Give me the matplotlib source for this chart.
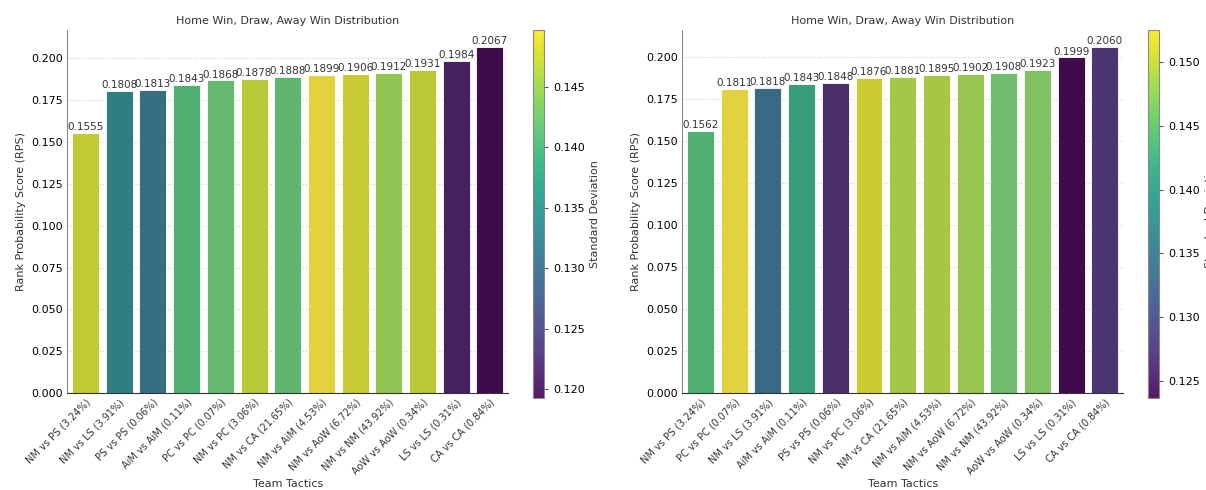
import numpy as np
import matplotlib
matplotlib.use("Agg")
import matplotlib.pyplot as plt
import matplotlib.colors as mcolors
import seaborn as sns

# Left panel
left_tactics = ['NM vs PS (3.24%)', 'NM vs LS (3.91%)', 'PS vs PS (0.06%)', 'AiM vs AiM (0.11%)',
                'PC vs PC (0.07%)', 'NM vs PC (3.06%)', 'NM vs CA (21.65%)', 'NM vs AiM (4.53%)',
                'NM vs AoW (6.72%)', 'NM vs NM (43.92%)', 'AoW vs AoW (0.34%)', 'LS vs LS (0.31%)',
                'CA vs CA (0.84%)']
left_rps = [0.1555, 0.1808, 0.1813, 0.1843, 0.1868, 0.1878, 0.1888, 0.1899,
            0.1906, 0.1912, 0.1931, 0.1984, 0.2067]
left_std = [0.1479, 0.1339, 0.1309, 0.1406, 0.1418, 0.1473, 0.1415, 0.1497,
            0.1482, 0.1448, 0.1473, 0.1211, 0.1193]

# Right panel
right_tactics = ['NM vs PS (3.24%)', 'PC vs PC (0.07%)', 'NM vs LS (3.91%)', 'AiM vs AiM (0.11%)',
                 'PS vs PS (0.06%)', 'NM vs PC (3.06%)', 'NM vs CA (21.65%)', 'NM vs AiM (4.53%)',
                 'NM vs AoW (6.72%)', 'NM vs NM (43.92%)', 'AoW vs AoW (0.34%)', 'LS vs LS (0.31%)',
                 'CA vs CA (0.84%)']
right_rps = [0.1562, 0.1811, 0.1818, 0.1843, 0.1848, 0.1876, 0.1881, 0.1895,
             0.1902, 0.1908, 0.1923, 0.1999, 0.2060]
right_std = [0.1439, 0.1525, 0.1341, 0.1416, 0.1266, 0.1513, 0.1490, 0.1492,
             0.1482, 0.1456, 0.1467, 0.1237, 0.1274]

TEXT = '#333333'


def draw_panel(fig, ax_rect, cax_rect, tactics, rps, std):
    ax = fig.add_axes(ax_rect)
    cax = fig.add_axes(cax_rect)
    cmap = plt.get_cmap('viridis')
    norm = mcolors.Normalize(vmin=min(std), vmax=max(std))
    colors = [sns.desaturate(cmap(norm(s)), 0.75) for s in std]

    x = np.arange(len(tactics))
    bars = ax.bar(x, rps, width=0.8, color=colors, edgecolor='white', linewidth=0.6, zorder=2)
    for b, v in zip(bars, rps):
        ax.text(b.get_x() + b.get_width() / 2, v + 0.0005, f'{v:.4f}',
                ha='center', va='bottom', fontsize=7.5, color=TEXT)

    ax.set_xlim(-0.55, len(tactics) - 0.45)
    ax.set_ylim(0, max(rps) * 1.05)
    ax.set_yticks(np.arange(0, 0.201, 0.025))
    ax.set_xticks(x)
    ax.set_xticklabels(tactics, rotation=45, ha='right', rotation_mode='anchor',
                       fontsize=7, color=TEXT)
    ax.tick_params(axis='x', direction='in', length=3, color='#555555', pad=3)
    ax.tick_params(axis='y', length=0, labelsize=8, pad=3)
    ax.grid(axis='y', linestyle=':', color='#cccccc', linewidth=0.8, zorder=0)
    ax.set_axisbelow(True)
    for s in ['top', 'right']:
        ax.spines[s].set_visible(False)
    ax.spines['left'].set_color('#888888')
    ax.spines['bottom'].set_color('#333333')

    ax.set_title('Home Win, Draw, Away Win Distribution', fontsize=8, color=TEXT, pad=4)
    ax.set_xlabel('Team Tactics', fontsize=8, color=TEXT, labelpad=2)
    ax.set_ylabel('Rank Probability Score (RPS)', fontsize=8, color=TEXT)

    sm = plt.cm.ScalarMappable(cmap=cmap, norm=norm)
    cb = fig.colorbar(sm, cax=cax, alpha=0.9)
    cb.outline.set_edgecolor('#888888')
    cb.outline.set_linewidth(0.8)
    cb.ax.tick_params(labelsize=8, length=3, color='#555555')
    cb.set_label('Standard Deviation', fontsize=8, color=TEXT)
    return ax


fig = plt.figure(figsize=(12.06, 4.9), dpi=100)
draw_panel(fig, [0.0556, 0.198, 0.366, 0.741], [0.442, 0.188, 0.0091, 0.751],
           left_tactics, left_rps, left_std)
draw_panel(fig, [0.5655, 0.198, 0.366, 0.741], [0.952, 0.188, 0.0091, 0.751],
           right_tactics, right_rps, right_std)

plt.savefig('out.png', dpi=100)
